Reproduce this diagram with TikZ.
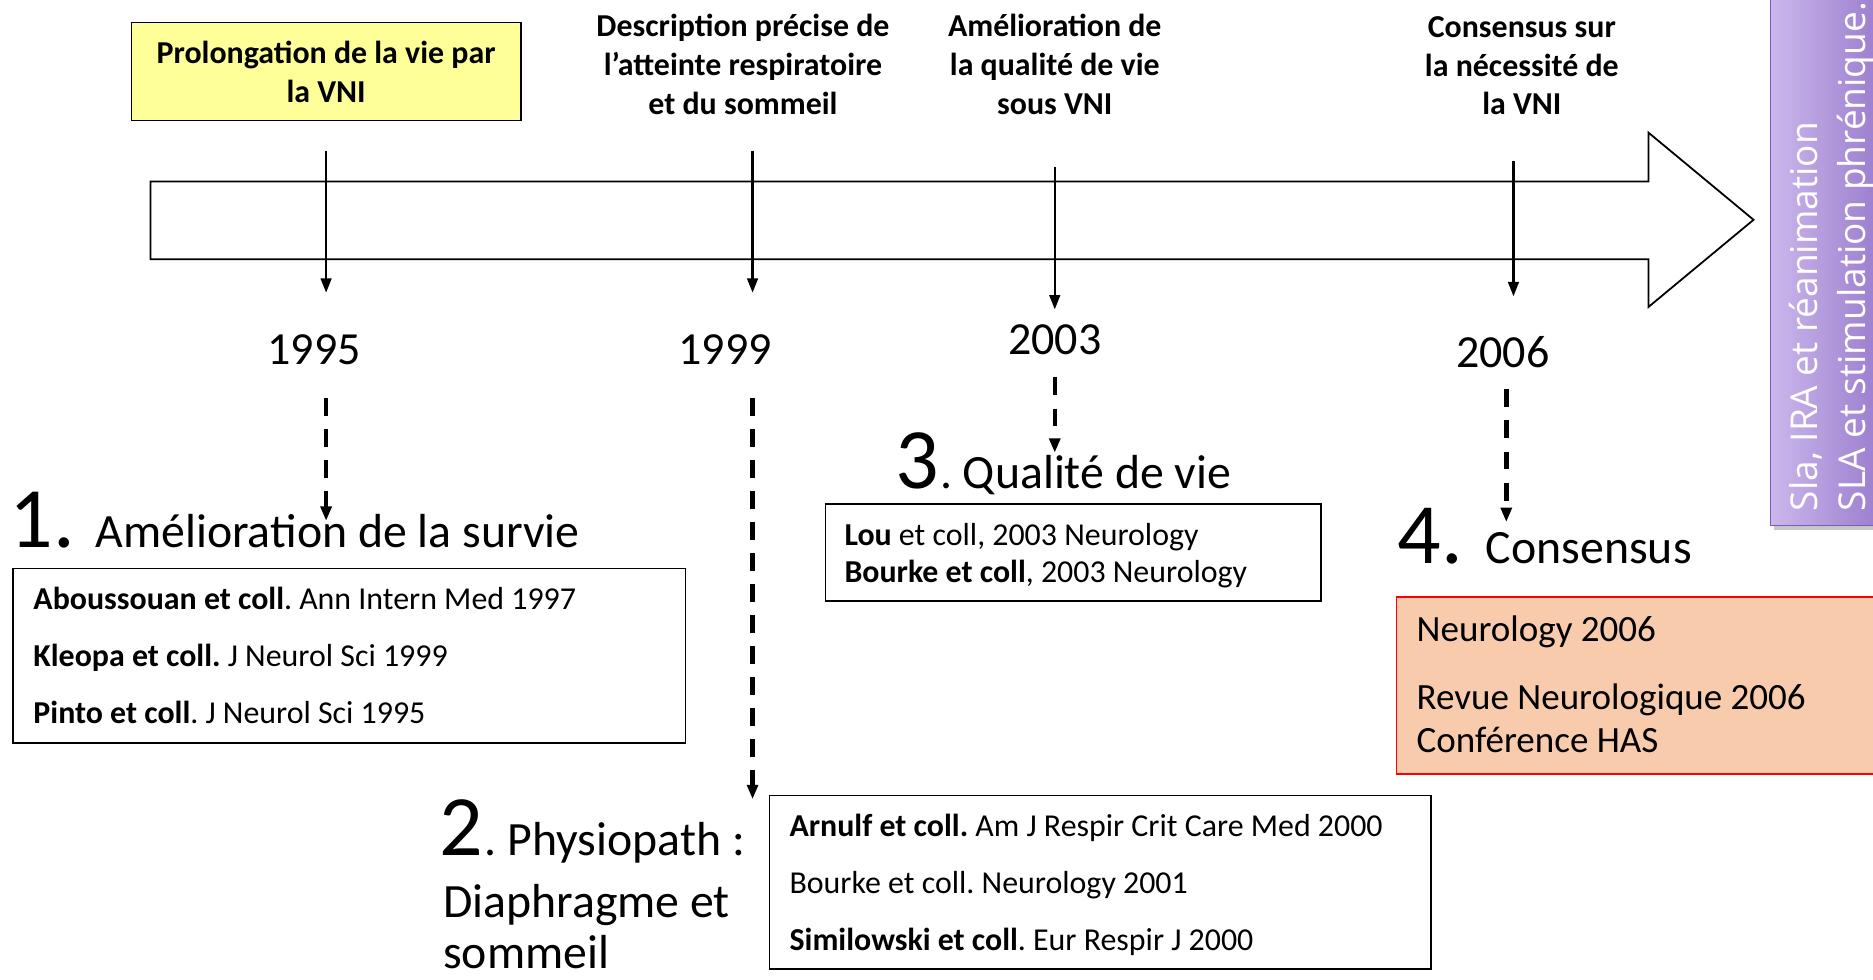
\documentclass[tikz,border=0pt]{standalone}
\usepackage{fontspec}
\setmainfont{Carlito}
\newfontfamily\sidefont{Open Sans}
\usetikzlibrary{arrows.meta,shadows}
\definecolor{yellowfill}{HTML}{FFFF99}
\definecolor{orangefill}{HTML}{F8CBAD}
\definecolor{purpleA}{HTML}{CBB8EC}
\definecolor{purpleB}{HTML}{8C6BC4}
\definecolor{purpleLine}{HTML}{7A5FB0}
\frenchspacing
\begin{document}
\begin{tikzpicture}[x=1pt,y=-1pt,
  every node/.style={inner sep=0pt, outer sep=0pt},
  toplabel/.style={font=\fontsize{26.7}{32.5}\selectfont\bfseries, align=center},
  yellowbox/.style={draw, line width=1.2pt, fill=yellowfill, minimum width=326, minimum height=82,
     font=\fontsize{26.7}{32.5}\selectfont\bfseries, align=center},
  yearlabel/.style={font=\fontsize{38.5}{40}\selectfont, anchor=base},
  reftext/.style={font=\fontsize{26.7}{30}\selectfont, anchor=base west},
  reftextb/.style={font=\fontsize{31}{36}\selectfont, anchor=base west},
  headtext/.style={font=\fontsize{40}{46}\selectfont, anchor=base west},
  bignum/.style={font=\fontsize{72}{72}\selectfont, anchor=base west},
  refbox/.style={draw, line width=1.3pt, anchor=north west},
  orangebox/.style={draw=red, line width=1.3pt, fill=orangefill, anchor=north west},
  sidebox/.style={draw=purpleLine, line width=1.2pt, left color=purpleA, right color=purpleB,
     drop shadow={shadow xshift=3pt, shadow yshift=-4pt, opacity=0.45}, anchor=north west},
  sidetext/.style={font=\sidefont\fontsize{31}{40}\selectfont, text=white, align=left},
  timeline/.style={draw, line width=1.5pt, fill=white},
  solidarrow/.style={-{Triangle[length=12pt,width=9pt]}, line width=1.8pt},
  dasharrow/.style={-{Triangle[length=12pt,width=9pt]}, line width=3.8pt, dash pattern=on 15pt off 11pt}
]
\useasboundingbox (0,0) rectangle (1568,820);

% side panel
\node[sidebox, minimum width=120, minimum height=460] (side) at (1482,-20) {};
\node[sidetext, rotate=90, anchor=north west] (sidet) at (1498,428)
  {Sla, IRA et réanimation\\SLA et stimulation phrénique.};

% timeline arrow
\draw[timeline] (126,152) -- (1380,152) -- (1380,111) -- (1468,184) -- (1380,257)
  -- (1380,217) -- (126,217) -- cycle;

% top labels
\node[yellowbox] (lab1) at (273,60) {Prolongation de la vie par\\la VNI};
\node[toplabel] (lab2) at (622,54) {Description précise de\\l’atteinte respiratoire\\et du sommeil};
\node[toplabel] (lab3) at (883,54) {Amélioration de\\la qualité de vie\\sous VNI};
\node[toplabel] (lab4) at (1274,55) {Consensus sur\\la nécessité de\\la VNI};

% solid arrows
\coordinate (s1a) at (273,126); \coordinate (s1b) at (273,245);
\coordinate (s2a) at (630,126); \coordinate (s2b) at (630,245);
\coordinate (s3a) at (883,140); \coordinate (s3b) at (883,259);
\coordinate (s4a) at (1267,135); \coordinate (s4b) at (1267,248);
\draw[solidarrow] (s1a) -- (s1b);
\draw[solidarrow] (s2a) -- (s2b);
\draw[solidarrow] (s3a) -- (s3b);
\draw[solidarrow] (s4a) -- (s4b);

% years
\node[yearlabel] (y1) at (263,305) {1995};
\node[yearlabel] (y2) at (607,305) {1999};
\node[yearlabel] (y3) at (883,297) {2003};
\node[yearlabel] (y4) at (1258,308) {2006};

% dashed arrows
\coordinate (d1a) at (273,333); \coordinate (d1b) at (273,436);
\coordinate (d2a) at (630,333); \coordinate (d2b) at (630,669);
\coordinate (d3a) at (883,316); \coordinate (d3b) at (883,379);
\coordinate (d4a) at (1261,326); \coordinate (d4b) at (1261,437);
\draw[dasharrow] (d1a) -- (d1b);
\draw[dasharrow] (d2a) -- (d2b);
\draw[dasharrow] (d3a) -- (d3b);
\draw[dasharrow] (d4a) -- (d4b);

% heading 1
\node[bignum] (n1) at (8,458) {1.};
\node[headtext] (h1) at (80,458) {Amélioration de la survie};
\node[refbox, minimum width=563, minimum height=146] (box1) at (11,476) {};
\node[reftext] (r11) at (28,510) {\textbf{Aboussouan et coll}. Ann Intern Med 1997};
\node[reftext] (r12) at (28,558) {\textbf{Kleopa et coll.} J Neurol Sci 1999};
\node[reftext] (r13) at (28,606) {\textbf{Pinto et coll}. J Neurol Sci 1995};

% heading 2
\node[bignum] (n2) at (368,716) {2};
\node[headtext] (h2) at (406,716) {. Physiopath :};
\node[headtext] (h2b) at (371,768) {Diaphragme et};
\node[headtext] (h2c) at (371,811) {sommeil};
\node[refbox, minimum width=554, minimum height=145] (box2) at (644,666) {};
\node[reftext] (r21) at (661,700) {\textbf{Arnulf et coll.} Am J Respir Crit Care Med 2000};
\node[reftext] (r22) at (661,748) {Bourke et coll. Neurology 2001};
\node[reftext] (r23) at (661,796) {\textbf{Similowski et coll}. Eur Respir J 2000};

% heading 3
\node[bignum] (n3) at (750,409) {3};
\node[headtext] (h3) at (787,409) {. Qualité de vie};
\node[refbox, minimum width=415, minimum height=81] (box3) at (691,422) {};
\node[reftext] (r31) at (707,457) {\textbf{Lou} et coll, 2003 Neurology};
\node[reftext] (r32) at (707,488) {\textbf{Bourke et coll}, 2003 Neurology};

% heading 4
\node[bignum] (n4) at (1170,472) {4.};
\node[headtext] (h4) at (1244,472) {Consensus};
\node[orangebox, minimum width=430, minimum height=148] (box4) at (1169,500) {};
\node[reftextb] (r41) at (1186,537) {Neurology 2006};
\node[reftextb] (r42) at (1186,594) {Revue Neurologique 2006};
\node[reftextb] (r43) at (1186,630) {Conférence HAS};
\end{tikzpicture}
\end{document}
